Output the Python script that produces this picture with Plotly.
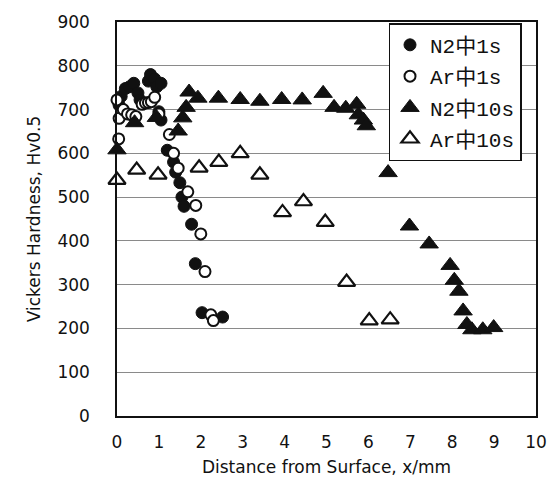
import plotly.graph_objects as go

# N2中1s (filled circles)
n2_1s_x = [0.05, 0.1, 0.2, 0.3, 0.4, 0.5, 0.55, 0.75, 0.8, 0.9, 0.95, 1.05, 1.0, 1.05,
           1.2, 1.35, 1.4, 1.5, 1.55, 1.6, 1.78, 1.87, 2.03, 2.52]
n2_1s_y = [710, 730, 748, 752, 760, 738, 722, 765, 780, 770, 752, 760, 695, 676,
           607, 580, 557, 533, 500, 479, 438, 348, 236, 226]

# Ar中1s (open circles)
ar_1s_x = [0.0, 0.05, 0.04, 0.15, 0.25, 0.35, 0.45, 0.6, 0.68, 0.75, 0.82, 0.9, 1.0,
           1.25, 1.35, 1.46, 1.69, 1.88, 2.0, 2.1, 2.24, 2.3]
ar_1s_y = [722, 680, 633, 700, 690, 688, 684, 712, 715, 716, 718, 728, 690,
           643, 600, 566, 512, 481, 416, 330, 231, 218]

# N2中10s (filled triangles)
n2_10s_x = [0.0, 0.42, 0.94, 1.46, 1.57, 1.65, 1.72, 1.93, 2.42, 2.94, 3.41, 3.93, 4.42,
            4.92, 5.18, 5.46, 5.72, 5.76, 5.88, 5.95, 6.47, 6.98, 7.45, 7.95, 8.05,
            8.16, 8.26, 8.35, 8.47, 8.73, 8.99]
n2_10s_y = [608, 670, 682, 651, 681, 705, 740, 726, 726, 723, 719, 723, 722,
            737, 705, 703, 712, 688, 676, 663, 556, 434, 393, 344, 310,
            285, 240, 209, 197, 197, 202]

# Ar中10s (open triangles)
ar_10s_x = [0.0, 0.47, 0.98, 1.96, 2.43, 2.94, 3.41, 3.95, 4.45, 4.97, 5.48, 6.02, 6.52]
ar_10s_y = [539, 562, 551, 567, 580, 600, 551, 465, 490, 443, 306, 218, 220]

x_ticks = [0, 1, 2, 3, 4, 5, 6, 7, 8, 9, 10]
y_ticks = [0, 100, 200, 300, 400, 500, 600, 700, 800, 900]

fig = go.Figure()

common = dict(mode="markers", cliponaxis=False)
fig.add_trace(go.Scatter(x=n2_1s_x, y=n2_1s_y, name="N2中1s", legendgroup="a",
                         marker=dict(symbol="circle", size=12, color="#111111",
                                     line=dict(color="#111111", width=1)), **common))
fig.add_trace(go.Scatter(x=ar_1s_x, y=ar_1s_y, name="Ar中1s", legendgroup="b",
                         marker=dict(symbol="circle", size=11, color="white",
                                     line=dict(color="#111111", width=2)), **common))
fig.add_trace(go.Scatter(x=n2_10s_x, y=n2_10s_y, name="N2中10s", legendgroup="c",
                         marker=dict(symbol="triangle-up", size=16, color="#111111",
                                     line=dict(color="#111111", width=1)), **common))
fig.add_trace(go.Scatter(x=ar_10s_x, y=ar_10s_y, name="Ar中10s", legendgroup="d",
                         marker=dict(symbol="triangle-up", size=15, color="white",
                                     line=dict(color="#111111", width=2.2)), **common))

fig.update_layout(
    width=559, height=486,
    margin=dict(l=117, r=16, t=21, b=66),
    paper_bgcolor="white", plot_bgcolor="white",
    font=dict(family="DejaVu Sans, sans-serif", size=17, color="#111111"),
    showlegend=True,
    legend=dict(x=0.648, y=0.997, xanchor="left", yanchor="top",
                bgcolor="white", bordercolor="#111111", borderwidth=1.5,
                font=dict(family="Liberation Mono, Noto Sans CJK JP, monospace", size=21),
                tracegroupgap=1, itemwidth=30),
    xaxis=dict(range=[0, 10], tickvals=x_ticks, showgrid=False, zeroline=False,
               showline=True, linecolor="#111111", linewidth=1.5, mirror=True,
               ticks="", ticklen=0, ticklabelstandoff=10,
               title=dict(text="Distance from Surface, x/mm", standoff=10,
                          font=dict(size=17))),
    yaxis=dict(range=[0, 900], tickvals=y_ticks, showgrid=True, gridcolor="#8a8a8a",
               gridwidth=1, zeroline=False,
               showline=True, linecolor="#111111", linewidth=1.5, mirror=True,
               ticks="", ticklen=0, ticklabelstandoff=22,
               title=dict(text="Vickers Hardness, Hv0.5", standoff=12,
                          font=dict(size=17))),
)

fig.write_html("out.html", config={"displayModeBar": False},
               post_script="document.body.style.margin='0';document.body.style.overflow='hidden';")
